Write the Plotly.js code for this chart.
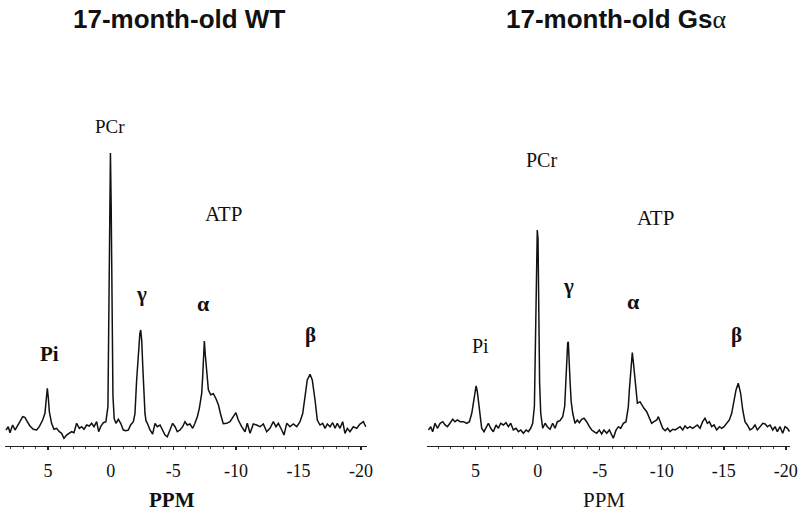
<!DOCTYPE html>
<html>
<head>
<meta charset="utf-8">
<script src="https://cdn.plot.ly/plotly-3.0.1.min.js"></script>
<style>html,body{margin:0;padding:0;background:#fff;}#chart{width:800px;height:517px;}</style>
</head>
<body>
<div id="chart"></div>
<script>
// 17-month-old WT spectrum (chemical shift in ppm, intensity in a.u.)
const wtPpm = [8.36,8.18,8.04,7.83,7.64,7.46,7.25,7.03,6.85,6.66,6.45,6.18,5.91,5.70,5.43,5.25,5.15,5.06,4.98,4.90,4.72,4.53,4.32,4.10,3.92,3.73,3.52,3.30,3.12,2.93,2.72,2.50,2.32,2.13,1.92,1.71,1.52,1.33,1.12,0.96,0.80,0.59,0.38,0.22,0.14,0.07,0.02,-0.04,-0.10,-0.18,-0.28,-0.42,-0.61,-0.80,-1.01,-1.22,-1.41,-1.59,-1.81,-1.94,-2.07,-2.20,-2.33,-2.40,-2.48,-2.56,-2.61,-2.68,-2.74,-2.82,-2.93,-3.14,-3.35,-3.54,-3.72,-3.94,-4.15,-4.34,-4.52,-4.74,-4.95,-5.14,-5.32,-5.53,-5.75,-5.93,-6.12,-6.33,-6.55,-6.73,-6.92,-7.08,-7.27,-7.35,-7.42,-7.48,-7.55,-7.61,-7.70,-7.80,-7.99,-8.20,-8.41,-8.60,-8.79,-8.99,-9.27,-9.53,-9.79,-10.00,-10.19,-10.46,-10.73,-10.91,-11.13,-11.39,-11.66,-11.93,-12.19,-12.46,-12.72,-12.99,-13.20,-13.39,-13.66,-13.84,-14.06,-14.32,-14.58,-14.86,-15.12,-15.34,-15.52,-15.70,-15.92,-16.10,-16.32,-16.50,-16.72,-16.93,-17.12,-17.30,-17.52,-17.73,-17.92,-18.10,-18.31,-18.53,-18.71,-18.90,-19.11,-19.38,-19.65,-19.91,-20.18,-20.37];
const wtInt = [15.7,19.0,13.0,20.7,15.7,19.0,24.0,29.0,28.4,24.0,19.7,16.4,15.7,19.0,25.7,32.4,45,57.4,48,34.0,22.4,16.4,17.4,14.0,12.4,7.4,10.7,12.4,14.0,13.0,22.4,17.4,19.0,16.4,20.7,19.7,22.4,19.0,24.0,14.0,19.0,23.0,24.0,39.0,120,250,292.7,240,130,50,27,22.4,26.4,22.4,15.7,15.0,15.7,20.7,24.0,32,65,95,112,115.7,105,80,65,45,32,25,22.4,15.7,11.7,22.4,19.0,20.7,15.7,10.7,9.0,15.7,22.4,19.0,14.0,15.7,19.0,24.0,20.7,21.7,17.4,22.4,29.0,37.4,52.4,70,95,104.7,92,82,65,56,51,52,47,41,31,22,22.4,24,29,33,25.7,19,14,22.4,12.4,21.7,20.7,19,21.7,14,17.4,24,19,22.4,15.7,10.7,22.4,19,21.7,19,24,32.4,49,65.7,71.4,65.7,45.7,25.7,20.7,22.4,17.4,21.7,19,23,17.4,22.4,17.4,24,12.4,17.4,14,19,17.4,21.7,24,19];

// 17-month-old Gs-alpha spectrum
const gsPpm = [8.80,8.62,8.46,8.27,8.08,7.86,7.65,7.46,7.27,7.06,6.84,6.66,6.47,6.25,5.98,5.72,5.50,5.31,5.13,5.04,4.96,4.86,4.70,4.51,4.32,4.16,3.97,3.78,3.57,3.35,3.16,2.98,2.76,2.55,2.36,2.17,1.96,1.74,1.55,1.36,1.15,0.93,0.75,0.56,0.40,0.26,0.18,0.10,0.03,-0.03,-0.10,-0.16,-0.25,-0.41,-0.60,-0.78,-1.00,-1.21,-1.40,-1.59,-1.80,-2.02,-2.18,-2.26,-2.34,-2.42,-2.47,-2.53,-2.61,-2.70,-2.83,-3.01,-3.20,-3.36,-3.55,-3.74,-3.95,-4.17,-4.36,-4.54,-4.76,-4.97,-5.16,-5.35,-5.57,-5.78,-5.97,-6.10,-6.32,-6.51,-6.69,-6.91,-7.12,-7.31,-7.39,-7.50,-7.63,-7.74,-7.85,-7.95,-8.04,-8.25,-8.39,-8.57,-8.79,-9.00,-9.19,-9.38,-9.60,-9.73,-9.87,-10.08,-10.28,-10.47,-10.67,-10.89,-11.08,-11.27,-11.48,-11.70,-11.88,-12.07,-12.28,-12.50,-12.68,-12.87,-13.09,-13.30,-13.49,-13.68,-13.84,-14.03,-14.22,-14.43,-14.65,-14.84,-15.02,-15.24,-15.45,-15.64,-15.83,-15.99,-16.17,-16.36,-16.53,-16.71,-16.90,-17.12,-17.33,-17.52,-17.71,-17.94,-18.15,-18.33,-18.52,-18.73,-18.95,-19.13,-19.32,-19.54,-19.75,-19.94,-20.13,-20.30];
const gsInt = [13.3,16.6,11.6,20,15,20,21.6,18.3,16.6,20,24,21.6,23.3,21.6,21.6,20,21.6,30,43.3,52,57.3,51.6,33.3,15,11.6,15,20,15,11.6,18.3,15,20,18.3,20.6,16.6,20,13.3,15,11.6,13.3,10,13.3,11.6,15,20,37,90,170,213.3,205,130,60,30,15,20,16.6,14,20,15,21.6,22.6,26.6,37,63,85,100,101.6,90,63,42,30,20,23.3,20.6,24,25,21.6,16.6,13.3,11.6,10,13.3,9.3,13.3,10,13.3,8.3,5,13.3,16.6,15,20,21.6,36.6,53.3,75,90.6,78,63.3,48,40,41.6,38.3,35,31.6,25,20,21.6,23.3,26.6,21.6,15,12.6,15,11.6,14,13.3,15,16.6,13.3,17.3,15,16.6,15,16.6,18.3,15,21.6,25,20,21.6,16.6,18.3,13.3,16.6,15,16.6,20,23.3,30,43.3,53.3,60,50,33.3,21.6,18.3,13.3,15,18.3,13.3,16.6,20,19.3,16.6,18.3,13.3,16.6,11.6,16.6,10,16.6,15,11.6];

const panelTitles = ['17-month-old WT', '17-month-old Gs<span style="font-family:Liberation Serif, serif;font-weight:normal">α</span>'];
const tickVals = [5, 0, -5, -10, -15, -20];
const tickText = ['5', '0', '-5', '-10', '-15', '-20'];
const xTitle = 'PPM';

const serif = "Liberation Serif, Times New Roman, serif";
const sans = "Liberation Sans, Arial, sans-serif";

const traces = [
  {x: wtPpm, y: wtInt, xaxis: 'x', yaxis: 'y', type: 'scatter', mode: 'lines',
   line: {color: '#111', width: 1.5}, hoverinfo: 'skip', showlegend: false},
  {x: gsPpm, y: gsInt, xaxis: 'x2', yaxis: 'y2', type: 'scatter', mode: 'lines',
   line: {color: '#111', width: 1.5}, hoverinfo: 'skip', showlegend: false}
];

function xax(domain, range) {
  return {
    domain: domain, range: range, showgrid: false, zeroline: false,
    showline: true, linecolor: '#222', linewidth: 1.5,
    tickmode: 'array', tickvals: tickVals, ticktext: tickText,
    ticks: 'outside', ticklen: 3, tickwidth: 1.5, tickcolor: '#222',
    minor: {dtick: 1, ticks: 'outside', ticklen: 2, tickwidth: 1, tickcolor: '#444'},
    tickfont: {family: serif, size: 18, color: '#111'},
    ticklabelstandoff: 5, fixedrange: true
  };
}
function yax(domain, range) {
  return {domain: domain, range: range, visible: false, showgrid: false, zeroline: false, fixedrange: true};
}

function lab(text, x, y, ref, size, bold) {
  return {text: bold ? '<b>' + text + '</b>' : text, x: x, y: y, xref: 'x' + ref, yref: 'y' + ref,
    showarrow: false, xanchor: 'center', yanchor: 'middle',
    font: {family: serif, size: size, color: '#111'}};
}

const annotations = [
  {text: '<b>' + panelTitles[0] + '</b>', x: 0.2234, y: 0.9632, xref: 'paper', yref: 'paper',
   showarrow: false, xanchor: 'center', yanchor: 'middle', font: {family: sans, size: 26, color: '#111'}},
  {text: '<b>' + panelTitles[1] + '</b>', x: 0.7709, y: 0.9632, xref: 'paper', yref: 'paper',
   showarrow: false, xanchor: 'center', yanchor: 'middle', font: {family: sans, size: 26, color: '#111'}},
  {text: '<b>' + xTitle + '</b>', x: 0.215, y: 0.0329, xref: 'paper', yref: 'paper', showarrow: false,
   xanchor: 'center', yanchor: 'middle', font: {family: serif, size: 21, color: '#111'}},
  {text: xTitle, x: 0.7544, y: 0.0329, xref: 'paper', yref: 'paper', showarrow: false,
   xanchor: 'center', yanchor: 'middle', font: {family: serif, size: 21, color: '#111'}},
  lab('PCr', 0.06, 319, '', 19, false),
  lab('ATP', -8.99, 232, '', 21, false),
  lab('γ', -2.48, 152, '', 21, true),
  lab('Pi', 4.85, 92, '', 21, true),
  lab('α', -7.45, 142, '', 22, true),
  lab('β', -15.92, 111, '', 21, true),
  lab('PCr', -0.33, 283, '2', 20, false),
  lab('ATP', -9.46, 225, '2', 21, false),
  lab('γ', -2.47, 157, '2', 21, true),
  lab('Pi', 4.64, 97, '2', 20, false),
  lab('α', -7.71, 142, '2', 22, true),
  lab('β', -16.04, 108, '2', 21, true)
];

const layout = {
  width: 800, height: 517,
  margin: {l: 0, r: 0, t: 0, b: 0},
  paper_bgcolor: '#fff', plot_bgcolor: '#fff',
  xaxis: xax([0.00625, 0.45875], [8.44, -20.47]),
  yaxis: yax([0.1379, 0.8066], [0, 345.7]),
  xaxis2: xax([0.5334, 0.9875], [8.94, -20.34]),
  yaxis2: yax([0.1426, 0.8066], [0, 343.3]),
  annotations: annotations,
  showlegend: false
};

Plotly.newPlot('chart', traces, layout, {staticPlot: true, displayModeBar: false});
</script>
</body>
</html>
